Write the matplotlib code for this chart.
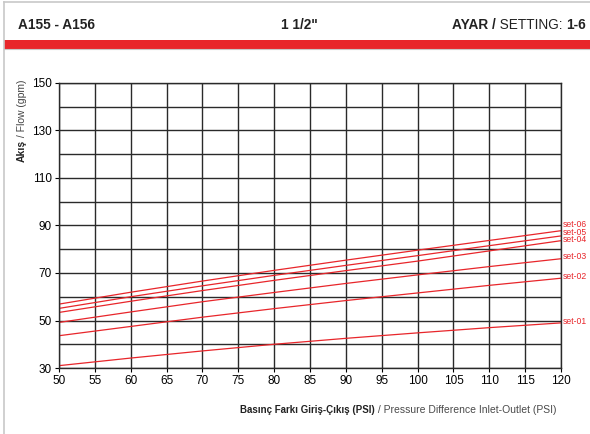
import matplotlib.pyplot as plt
from matplotlib.patches import Rectangle
from matplotlib.lines import Line2D

# data
psi = [50, 60, 70, 80, 90, 100, 110, 120]
set_names = ['set-01', 'set-02', 'set-03', 'set-04', 'set-05', 'set-06']
set_01 = [31.0, 34.2, 37.2, 40.0, 42.5, 44.8, 47.0, 49.0]
set_02 = [43.6, 47.5, 51.4, 55.0, 58.4, 61.6, 64.8, 67.8]
set_03 = [49.2, 53.6, 57.9, 61.8, 65.6, 69.2, 72.7, 76.0]
set_04 = [53.4, 58.1, 62.6, 66.9, 71.0, 75.0, 79.3, 83.6]
set_05 = [55.1, 60.0, 64.6, 69.0, 73.2, 77.3, 81.5, 85.6]
set_06 = [56.9, 61.9, 66.6, 71.1, 75.4, 79.6, 83.7, 87.8]
series = [set_01, set_02, set_03, set_04, set_05, set_06]
label_y = [49.5, 68.5, 76.8, 84.0, 87.2, 90.5]

x_ticks = list(range(50, 121, 5))
y_ticks = list(range(30, 151, 20))

red = '#e8262b'
fam = ['Liberation Sans', 'DejaVu Sans']
hdr = dict(family=fam, fontsize=9.8, color='#222222')

fig = plt.figure(figsize=(5.9, 4.34), dpi=100)
ax = fig.add_axes([0.1, 0.152, 0.851, 0.657])

# frame and header
fig.add_artist(Line2D([0.006, 0.006], [0, 0.995], color='#c8c8c8', lw=1.2))
fig.add_artist(Line2D([0.006, 1], [0.995, 0.995], color='#c8c8c8', lw=1.2))
fig.add_artist(Rectangle((0.006, 0.888), 0.994, 0.019, color=red, lw=0))
fig.add_artist(Line2D([0.006, 1], [0.886, 0.886], color='#c8c8c8', lw=0.8))

fig.text(0.03, 0.942, 'A155 - A156', ha='left', va='center', fontweight='bold', **hdr)
fig.text(0.508, 0.942, '1 1/2"', ha='center', va='center', fontweight='bold', **hdr)
t1 = fig.text(0.993, 0.942, '1-6', ha='right', va='center', fontweight='bold', **hdr)
a2 = ax.annotate(' SETTING: ', xy=(0, 0.5), xycoords=t1, ha='right', va='center',
                 annotation_clip=False, **hdr)
ax.annotate('AYAR /', xy=(0, 0.5), xycoords=a2, ha='right', va='center',
            fontweight='bold', annotation_clip=False, **hdr)

for s in series:
    ax.plot(psi, s, color=red, lw=0.9)
for name, y in zip(set_names, label_y):
    ax.text(120.3, y, name, color=red, fontsize=6.2, family=fam,
            va='center', ha='left', clip_on=False)

ax.set_xlim(50, 120)
ax.set_ylim(30, 150)
ax.set_xticks(x_ticks)
ax.set_yticks(y_ticks)
ax.set_yticks(range(30, 151, 10), minor=True)
ax.grid(True, which='both', color='#2a2a2a', lw=1.0)
ax.tick_params(which='minor', length=0)
ax.tick_params(which='major', length=3, width=0.8, labelsize=8.5, pad=2)
for lbl in ax.get_xticklabels() + ax.get_yticklabels():
    lbl.set_family(fam)
for sp in ax.spines.values():
    sp.set_color('#2a2a2a')
    sp.set_linewidth(1.0)

lab = dict(family=fam, fontsize=7.5)
yl = ax.text(-0.074, 0.76, 'Akış', transform=ax.transAxes, rotation=90,
             ha='center', va='center', fontweight='bold', color='#222222', **lab)
ax.annotate(' / Flow (gpm)', xy=(0.5, 1), xycoords=yl, rotation=90, ha='center',
            va='bottom', color='#444444', annotation_clip=False, **lab)

xl = fig.text(0.943, 0.056, ' / Pressure Difference Inlet-Outlet (PSI)', ha='right',
              va='center', color='#4a4a4a', **lab)
ax.annotate('Basınç Farkı Giriş-Çıkış (PSI)', xy=(0, 0.5), xycoords=xl, ha='right',
            va='center', fontweight='bold', color='#222222', annotation_clip=False,
            family=fam, fontsize=7.0)

fig.savefig('out.png', dpi=100)
